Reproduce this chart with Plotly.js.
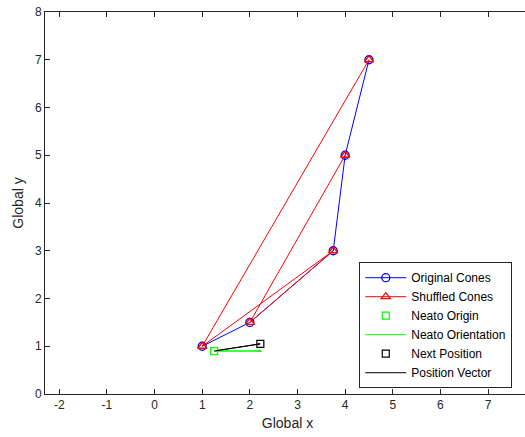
<!DOCTYPE html>
<html><head><meta charset="utf-8">
<script src="https://cdn.plot.ly/plotly-3.0.1.min.js"></script>
<style>html,body{margin:0;background:#fff;overflow:hidden;width:525px;height:437px}#c{width:530px;height:437px}</style>
</head><body><div id="c"></div>
<script>
// Data
var origX = [1, 2, 3.75, 4, 4.5];
var origY = [1, 1.5, 3, 5, 7];
var shufX = [4.5, 1, 3.75, 2, 4];
var shufY = [7, 1, 3, 1.5, 5];
var neatoOrigin = [1.25, 0.9];
var neatoOrient = [2.25, 0.9];
var nextPos = [2.22, 1.05];
var xTicks = [-2, -1, 0, 1, 2, 3, 4, 5, 6, 7];
var xTickText = ['-2', '-1', '0', '1', '2', '3', '4', '5', '6', '7'];
var yTicks = [0, 1, 2, 3, 4, 5, 6, 7, 8];

var ax = '#262626';
var traces = [
  {x: origX, y: origY, mode: 'lines+markers', name: 'Original Cones',
   line: {color: '#0000ff', width: 1},
   marker: {symbol: 'circle-open', size: 8, color: '#0000ff', line: {width: 1.3}}},
  {x: shufX, y: shufY, mode: 'lines+markers', name: 'Shuffled Cones',
   line: {color: '#ff0000', width: 1},
   marker: {symbol: 'triangle-up-open', size: 8, color: '#ff0000', line: {width: 1.3}}},
  {x: [neatoOrigin[0]], y: [neatoOrigin[1]], mode: 'markers', name: 'Neato Origin',
   marker: {symbol: 'square-open', size: 7, color: '#00ff00', line: {width: 1.2}}},
  {x: [neatoOrigin[0], neatoOrient[0]], y: [neatoOrigin[1], neatoOrient[1]], mode: 'lines', name: 'Neato Orientation',
   line: {color: '#00ff00', width: 1}},
  {x: [nextPos[0]], y: [nextPos[1]], mode: 'markers', name: 'Next Position',
   marker: {symbol: 'square-open', size: 7, color: '#000000', line: {width: 1.2}}},
  {x: [neatoOrigin[0], nextPos[0]], y: [neatoOrigin[1], nextPos[1]], mode: 'lines', name: 'Position Vector',
   line: {color: '#000000', width: 1}}
];

var layout = {
  width: 530, height: 437,
  margin: {l: 45, r: 0, t: 12, b: 43},
  paper_bgcolor: '#fff', plot_bgcolor: '#fff',
  font: {family: 'Liberation Sans, Arial, sans-serif', color: ax, size: 12},
  showlegend: true,
  legend: {x: 0.648, y: 0.345, xanchor: 'left', yanchor: 'top',
    bgcolor: '#fff', bordercolor: ax, borderwidth: 1,
    font: {size: 12, color: '#000'}, tracegroupgap: 0, itemwidth: 41},
  xaxis: {range: [-2.3, 7.88], tickvals: xTicks, ticktext: xTickText, ticks: 'inside', ticklen: 5,
    tickcolor: ax, showline: true, linecolor: ax, linewidth: 1, mirror: 'ticks',
    showgrid: false, zeroline: false, tickfont: {size: 12, color: ax},
    title: {text: 'Global x', font: {size: 14, color: ax}, standoff: 6}},
  yaxis: {range: [0, 8], tickvals: yTicks, ticks: 'inside', ticklen: 5,
    tickcolor: ax, showline: true, linecolor: ax, linewidth: 1, mirror: 'ticks',
    showgrid: false, zeroline: false, tickfont: {size: 12, color: ax},
    title: {text: 'Global y', font: {size: 14, color: ax}, standoff: 8}},
  annotations: [
    {x: neatoOrient[0], y: neatoOrient[1], ax: neatoOrigin[0], ay: neatoOrigin[1],
     xref: 'x', yref: 'y', axref: 'x', ayref: 'y', text: '', showarrow: true,
     arrowhead: 2, arrowsize: 0.6, arrowwidth: 1, arrowcolor: '#00ff00'},
    {x: nextPos[0], y: nextPos[1], ax: neatoOrigin[0], ay: neatoOrigin[1],
     xref: 'x', yref: 'y', axref: 'x', ayref: 'y', text: '', showarrow: true,
     arrowhead: 2, arrowsize: 0.5, arrowwidth: 1, arrowcolor: '#000000'}
  ]
};
Plotly.newPlot('c', traces, layout, {displayModeBar: false, staticPlot: true});
</script></body></html>
